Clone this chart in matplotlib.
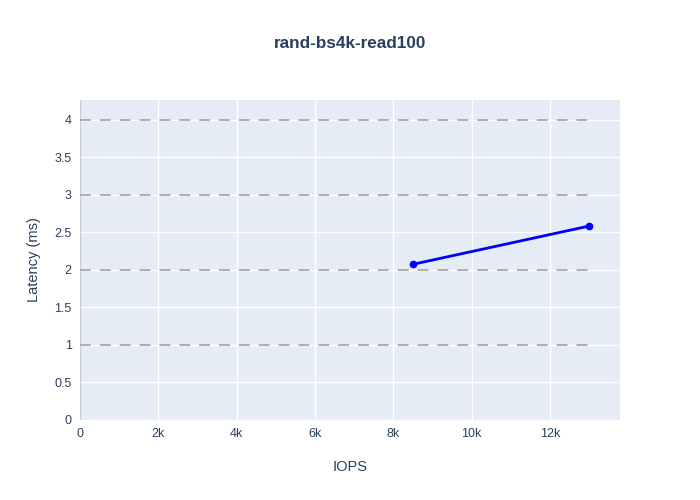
import matplotlib.pyplot as plt
from matplotlib.ticker import FuncFormatter

# data
iops = [8500, 13000]
latency_ms = [2.075, 2.585]
ref_levels = [1, 2, 3, 4]
ref_xmax = 13000

x_ticks = [0, 2000, 4000, 6000, 8000, 10000, 12000]
y_ticks = [0, 0.5, 1, 1.5, 2, 2.5, 3, 3.5, 4]

plt.rcParams['font.family'] = ['Liberation Sans', 'DejaVu Sans']

fig = plt.figure(figsize=(7, 5), dpi=100)
ax = fig.add_axes([80 / 700, 80 / 500, 540 / 700, 320 / 500])
ax.set_facecolor('#E5ECF6')

ax.set_xlim(0, 13790)
ax.set_ylim(0, 4.265)
ax.set_xticks(x_ticks)
ax.set_yticks(y_ticks)
ax.xaxis.set_major_formatter(FuncFormatter(lambda v, p: '0' if v == 0 else f'{v / 1000:g}k'))
ax.yaxis.set_major_formatter(FuncFormatter(lambda v, p: f'{v:g}'))
ax.grid(True, color='white', linewidth=1)
ax.set_axisbelow(True)
for s in ax.spines.values():
    s.set_visible(False)
ax.axvline(0, color='#C8CDD4', linewidth=1, zorder=1)
ax.tick_params(length=0, labelsize=9, colors='#2A3F5F', pad=6)

for lv in ref_levels:
    ax.hlines(lv, 0, ref_xmax, colors='#A8A8A8', linestyles=(0, (6, 5)), linewidth=1.3, zorder=2)

ax.plot(iops, latency_ms, color='#0000FF', linewidth=2, marker='o', markersize=4.5, zorder=3)

ax.set_xlabel('IOPS', fontsize=10.5, color='#2A3F5F', labelpad=14)
ax.set_ylabel('Latency (ms)', fontsize=10.5, color='#2A3F5F', labelpad=10)
fig.text(0.5, 1 - 44 / 500, 'rand-bs4k-read100', ha='center', va='center',
         fontsize=12.3, fontweight='bold', color='#2A3F5F')

fig.savefig('out.png')
